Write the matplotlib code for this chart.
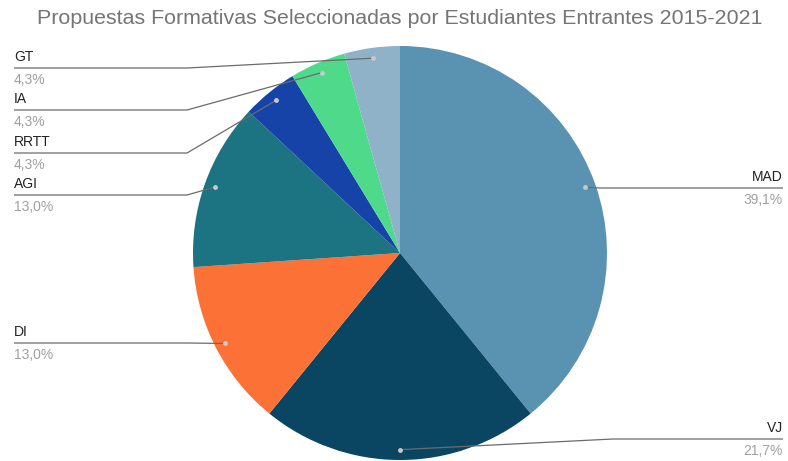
import matplotlib
matplotlib.use('Agg')
import matplotlib.pyplot as plt
import numpy as np

# ---- data ----
categories = ['MAD', 'VJ', 'DI', 'AGI', 'RRTT', 'IA', 'GT']
values = [9, 5, 3, 3, 1, 1, 1]
pct_labels = ['39,1%', '21,7%', '13,0%', '13,0%', '4,3%', '4,3%', '4,3%']
title = 'Propuestas Formativas Seleccionadas por Estudiantes Entrantes 2015-2021'

# ---- style ----
colors = ['#5a93b1', '#0a4662', '#fb7136', '#1c7382', '#1543a8', '#4fd98b', '#8fb2c8']
W, H = 788, 461
cx, cy, R = 400, 253, 207
FONT = ['Liberation Sans', 'DejaVu Sans']

# label layout: side, line y, elbow x
layout = {
    'MAD': ('right', 188, 600),
    'VJ': ('right', 439, 613),
    'DI': ('left', 343, 187),
    'AGI': ('left', 195, 187),
    'RRTT': ('left', 153, 187),
    'IA': ('left', 110, 187),
    'GT': ('left', 68, 187),
}
LEFT_X, RIGHT_X = 14, 783

fig = plt.figure(figsize=(W / 100, H / 100), dpi=100)
ax = fig.add_axes([0, 0, 1, 1])
wedges, _ = ax.pie(values, colors=colors, startangle=-90, counterclock=True,
                   center=(cx, cy), radius=R, frame=True,
                   wedgeprops=dict(linewidth=0))
ax.set_xlim(0, W)
ax.set_ylim(H, 0)
ax.set_aspect('equal')
ax.axis('off')

for w, cat, pct in zip(wedges, categories, pct_labels):
    tm = np.deg2rad((w.theta1 + w.theta2) / 2)
    dx = cx + 0.95 * R * np.cos(tm)
    dy = cy + 0.95 * R * np.sin(tm)
    side, ly, ex = layout[cat]
    endx = LEFT_X if side == 'left' else RIGHT_X
    ax.plot([dx, ex, endx], [dy, ly, ly], color='#6b6b6b', lw=0.9,
            solid_capstyle='butt', zorder=3)
    ax.plot([dx], [dy], 'o', ms=3.5, color='#c8c8c8', mec='none', zorder=4)
    ha = 'left' if side == 'left' else 'right'
    ax.text(endx, ly - 4, cat, ha=ha, va='bottom', fontsize=10,
            color='#222222', family=FONT)
    ax.text(endx, ly + 5, pct, ha=ha, va='top', fontsize=10,
            color='#a0a0a0', family=FONT)

fig.text(400 / W, 1 - 18 / H, title, ha='center', va='center', fontsize=15.4,
         color='#757575', family=FONT)

fig.savefig('out.png', dpi=100, facecolor='white')
